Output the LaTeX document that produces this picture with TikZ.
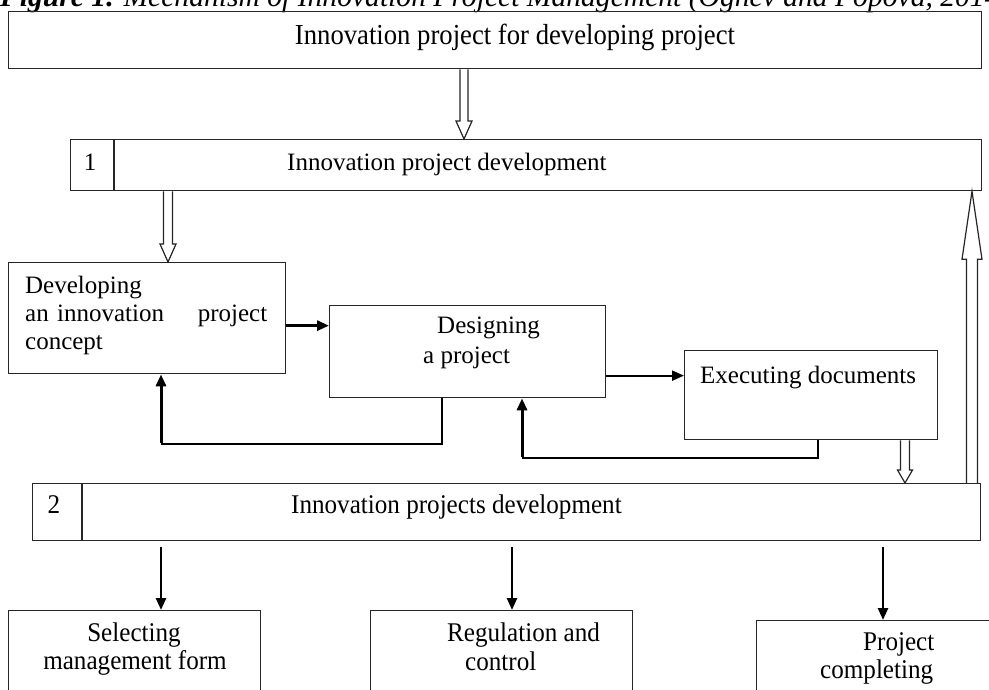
\documentclass[tikz,border=0pt]{standalone}
\usepackage{fontspec}
\setmainfont{Liberation Serif}
\usetikzlibrary{arrows.meta,calc}
\tikzset{
  box/.style={draw=black!85, line width=1.3pt, inner sep=0pt, anchor=north west},
  boxline/.style={draw=black!85, line width=1.3pt},
  txt/.style={inner sep=0pt, font=\fontsize{25}{28}\selectfont},
  ctxt/.style={inner sep=0pt, font=\fontsize{27}{30}\selectfont},
  hollow/.style={draw=black!85, line width=1.2pt, line join=miter},
  thickarr/.style={line width=2.6pt, -{Triangle[length=12pt,width=10pt]}},
  thinline/.style={line width=1.6pt},
}
\newcommand{\cond}[1]{\scalebox{0.93}[1]{#1}}
\newcommand{\hollowdown}[5]{\path[hollow] let \p1=(#1), \p2=(#2) in
  (\x1-#3pt,\y1) -- (\x1-#3pt,\y2+#5pt) -- (\x1-#4pt,\y2+#5pt) -- (\x1,\y2)
  -- (\x1+#4pt,\y2+#5pt) -- (\x1+#3pt,\y2+#5pt) -- (\x1+#3pt,\y1);}
\newcommand{\hollowup}[5]{\path[hollow] let \p1=(#1), \p2=(#2) in
  (\x1-#3pt,\y1) -- (\x1-#3pt,\y2-#5pt) -- (\x1-#4pt,\y2-#5pt) -- (\x1,\y2)
  -- (\x1+#4pt,\y2-#5pt) -- (\x1+#3pt,\y2-#5pt) -- (\x1+#3pt,\y1);}
\begin{document}
\begin{tikzpicture}[x=1pt,y=-1pt]
\useasboundingbox (0,0) rectangle (989,689);
\clip (0,0) rectangle (989,689);
\fill[white] (0,0) rectangle (989,689);

% caption (cut at top and right, as in the reference)
\node[anchor=base west, inner sep=0pt, font=\fontsize{29.6}{32}\selectfont] (cap) at (0,6)
  {\textbf{\textit{Figure 1.}} \textit{Mechanism of Innovation Project Management (Ognev and Popova, 2014}};

% top box
\node[box, minimum width=973pt, minimum height=57pt] (top) at (8,11) {};
\node[inner sep=0pt, font=\fontsize{29}{32}\selectfont, anchor=base] (toptxt) at (515,44)
  {\scalebox{0.92}[1]{Innovation project for developing project}};

% box 1
\node[box, minimum width=911pt, minimum height=51pt] (b1) at (70,139) {};
\draw[boxline] ([xshift=44pt]b1.north west) -- ([xshift=44pt]b1.south west);
\node[txt, anchor=base] (b1num) at (90,170) {1};
\node[txt, anchor=base west] (b1txt) at (287,170) {Innovation project development};

% developing
\node[box, minimum width=277pt, minimum height=111pt] (dev) at (8,262) {};
\node[txt, anchor=base west] (dev1) at (25,293) {Developing};
\node[txt, anchor=base west, text width=242pt, align=left] (dev2) at (25,321) {an innovation\hfill project};
\node[txt, anchor=base west] (dev3) at (25,349) {concept};

% designing
\node[box, minimum width=276pt, minimum height=92pt] (des) at (329,305) {};
\node[txt, anchor=base west] (des1) at (437,333) {Designing};
\node[txt, anchor=base west] (des2) at (423,363) {a project};

% executing
\node[box, minimum width=253pt, minimum height=89pt] (exe) at (684,350) {};
\node[txt, anchor=base west] (exe1) at (700,383) {Executing documents};

% box 2
\node[box, minimum width=948pt, minimum height=57pt] (b2) at (32,483) {};
\draw[boxline] ([xshift=50pt]b2.north west) -- ([xshift=50pt]b2.south west);
\node[ctxt, anchor=base] (b2num) at (54,513) {\cond{2}};
\node[ctxt, anchor=base west] (b2txt) at (291,513) {\cond{Innovation projects development}};

% bottom boxes
\node[box, minimum width=252pt, minimum height=100pt] (sel) at (8,610) {};
\node[ctxt, anchor=base] (sel1) at (134,641) {\cond{Selecting}};
\node[ctxt, anchor=base] (sel2) at (135,669) {\cond{management form}};

\node[box, minimum width=262pt, minimum height=100pt] (reg) at (370,610) {};
\node[ctxt, anchor=base west] (reg1) at (447,641) {\cond{Regulation and}};
\node[ctxt, anchor=base west] (reg2) at (465,670) {\cond{control}};

\node[box, minimum width=260pt, minimum height=100pt] (prj) at (756,620) {};
\node[ctxt, anchor=base west] (prj1) at (863,650) {\cond{Project}};
\node[ctxt, anchor=base west] (prj2) at (820,678) {\cond{completing}};

% hollow arrows
\coordinate (h1) at (464,0);
\coordinate (h2) at (168,0);
\coordinate (h3) at (905,0);
\coordinate (h4) at (972,0);
\hollowdown{top.south -| h1}{b1.north -| h1}{4}{8}{18}
\hollowdown{b1.south -| h2}{dev.north -| h2}{4.5}{8}{18}
\hollowdown{exe.south -| h3}{b2.north -| h3}{4.5}{7.5}{13}
\hollowup{b2.north -| h4}{b1.south -| h4}{5.5}{10}{68}

% flow arrows
\coordinate (d1) at ([yshift=-7.5pt]dev.east);
\draw[thickarr, line width=3pt] (d1) -- (d1 -| des.west);
\coordinate (d2) at ([yshift=-24pt]des.east);
\draw[thickarr, line width=2.2pt] (d2) -- (d2 -| exe.west);

% feedback 1
\coordinate (f1a) at (442,444);
\coordinate (f1b) at (161,444);
\draw[thinline] (des.south -| f1a) -- (f1a) -- (f1b);
\draw[thickarr, line width=3pt] ([yshift=0.8pt]f1b) -- (dev.south -| f1b);
% feedback 2
\coordinate (f2a) at (818,458);
\coordinate (f2b) at (522,458);
\draw[thinline] (exe.south -| f2a) -- (f2a) -- (f2b);
\draw[thickarr, line width=3pt] ([yshift=0.8pt]f2b) -- (des.south -| f2b);

% down arrows from box 2
\coordinate (s1) at (161,547);
\coordinate (s2) at (512,547);
\coordinate (s3) at (883,547);
\draw[thickarr] (s1) -- (sel.north -| s1);
\draw[thickarr] (s2) -- (reg.north -| s2);
\draw[thickarr] (s3) -- (prj.north -| s3);
\end{tikzpicture}
\end{document}
